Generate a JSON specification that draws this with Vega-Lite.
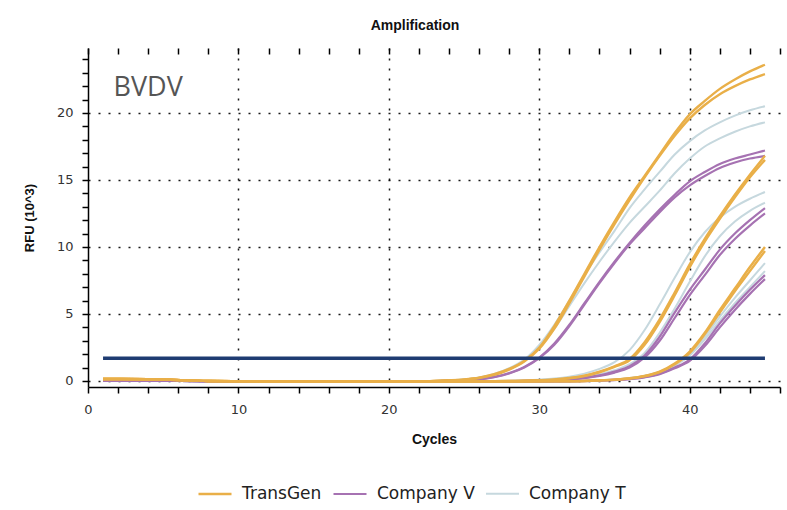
{
 "$schema": "https://vega.github.io/schema/vega-lite/v6.json",
 "autosize": {"type": "none"},
 "width": 692,
 "height": 339,
 "padding": {"left": 88, "top": 48, "right": 7, "bottom": 123},
 "background": "white",
 "config": {"view": {"stroke": null}},
 "title": {"text": "Amplification", "font": "Liberation Sans", "fontSize": 14, "fontWeight": "bold", "color": "#111", "offset": 14, "dx": -19},
 "datasets": {
  "series": [
   {"s": "T1a", "company": "Company T"}, {"s": "T1b", "company": "Company T"}, {"s": "T2a", "company": "Company T"}, {"s": "T2b", "company": "Company T"}, {"s": "T3a", "company": "Company T"}, {"s": "T3b", "company": "Company T"},
   {"s": "V1a", "company": "Company V"}, {"s": "V1b", "company": "Company V"}, {"s": "V2a", "company": "Company V"}, {"s": "V2b", "company": "Company V"}, {"s": "V3a", "company": "Company V"}, {"s": "V3b", "company": "Company V"},
   {"s": "G1a", "company": "TransGen"}, {"s": "G1b", "company": "TransGen"}, {"s": "G2a", "company": "TransGen"}, {"s": "G2b", "company": "TransGen"}, {"s": "G3a", "company": "TransGen"}, {"s": "G3b", "company": "TransGen"}
  ],
  "curves": [
   {"s":"T1a","c":1,"v":0.05},{"s":"T1a","c":4,"v":0.03},{"s":"T1a","c":8,"v":-0.02},{"s":"T1a","c":12,"v":-0.05},{"s":"T1a","c":16,"v":-0.05},{"s":"T1a","c":20,"v":-0.05},{"s":"T1a","c":22,"v":-0.03},{"s":"T1a","c":23,"v":0},{"s":"T1a","c":24,"v":0.05},{"s":"T1a","c":25,"v":0.12},{"s":"T1a","c":26,"v":0.26},{"s":"T1a","c":27,"v":0.52},{"s":"T1a","c":28,"v":0.95},{"s":"T1a","c":29,"v":1.6},{"s":"T1a","c":30,"v":2.7},{"s":"T1a","c":31,"v":4.2},{"s":"T1a","c":32,"v":6.0},{"s":"T1a","c":33,"v":7.9},{"s":"T1a","c":34,"v":9.6},{"s":"T1a","c":35,"v":11.2},{"s":"T1a","c":36,"v":12.9},{"s":"T1a","c":37,"v":14.3},{"s":"T1a","c":38,"v":15.6},{"s":"T1a","c":39,"v":16.9},{"s":"T1a","c":40,"v":17.9},{"s":"T1a","c":41,"v":18.7},{"s":"T1a","c":42,"v":19.3},{"s":"T1a","c":43,"v":19.8},{"s":"T1a","c":44,"v":20.2},{"s":"T1a","c":45,"v":20.5},
   {"s":"T1b","c":1,"v":0.05},{"s":"T1b","c":4,"v":0.03},{"s":"T1b","c":8,"v":-0.02},{"s":"T1b","c":12,"v":-0.05},{"s":"T1b","c":16,"v":-0.05},{"s":"T1b","c":20,"v":-0.05},{"s":"T1b","c":22,"v":-0.03},{"s":"T1b","c":23,"v":0},{"s":"T1b","c":24,"v":0.04},{"s":"T1b","c":25,"v":0.1},{"s":"T1b","c":26,"v":0.23},{"s":"T1b","c":27,"v":0.47},{"s":"T1b","c":28,"v":0.88},{"s":"T1b","c":29,"v":1.5},{"s":"T1b","c":30,"v":2.5},{"s":"T1b","c":31,"v":3.9},{"s":"T1b","c":32,"v":5.6},{"s":"T1b","c":33,"v":7.3},{"s":"T1b","c":34,"v":8.9},{"s":"T1b","c":35,"v":10.4},{"s":"T1b","c":36,"v":11.8},{"s":"T1b","c":37,"v":13.0},{"s":"T1b","c":38,"v":14.2},{"s":"T1b","c":39,"v":15.5},{"s":"T1b","c":40,"v":16.6},{"s":"T1b","c":41,"v":17.5},{"s":"T1b","c":42,"v":18.1},{"s":"T1b","c":43,"v":18.6},{"s":"T1b","c":44,"v":19.0},{"s":"T1b","c":45,"v":19.3},
   {"s":"T2a","c":1,"v":0.05},{"s":"T2a","c":4,"v":0.03},{"s":"T2a","c":8,"v":-0.02},{"s":"T2a","c":12,"v":-0.05},{"s":"T2a","c":16,"v":-0.05},{"s":"T2a","c":20,"v":-0.05},{"s":"T2a","c":24,"v":-0.04},{"s":"T2a","c":26,"v":-0.02},{"s":"T2a","c":28,"v":0.02},{"s":"T2a","c":29,"v":0.05},{"s":"T2a","c":30,"v":0.1},{"s":"T2a","c":31,"v":0.18},{"s":"T2a","c":32,"v":0.32},{"s":"T2a","c":33,"v":0.55},{"s":"T2a","c":34,"v":0.9},{"s":"T2a","c":35,"v":1.4},{"s":"T2a","c":36,"v":2.3},{"s":"T2a","c":37,"v":3.8},{"s":"T2a","c":38,"v":5.7},{"s":"T2a","c":39,"v":7.7},{"s":"T2a","c":40,"v":9.6},{"s":"T2a","c":41,"v":11.1},{"s":"T2a","c":42,"v":12.2},{"s":"T2a","c":43,"v":13.0},{"s":"T2a","c":44,"v":13.6},{"s":"T2a","c":45,"v":14.1},
   {"s":"T2b","c":1,"v":0.05},{"s":"T2b","c":4,"v":0.03},{"s":"T2b","c":8,"v":-0.02},{"s":"T2b","c":12,"v":-0.05},{"s":"T2b","c":16,"v":-0.05},{"s":"T2b","c":20,"v":-0.05},{"s":"T2b","c":24,"v":-0.04},{"s":"T2b","c":26,"v":-0.03},{"s":"T2b","c":28,"v":0.0},{"s":"T2b","c":30,"v":0.06},{"s":"T2b","c":31,"v":0.1},{"s":"T2b","c":32,"v":0.18},{"s":"T2b","c":33,"v":0.3},{"s":"T2b","c":34,"v":0.5},{"s":"T2b","c":35,"v":0.8},{"s":"T2b","c":36,"v":1.25},{"s":"T2b","c":37,"v":2.1},{"s":"T2b","c":38,"v":3.6},{"s":"T2b","c":39,"v":5.4},{"s":"T2b","c":40,"v":7.4},{"s":"T2b","c":41,"v":9.3},{"s":"T2b","c":42,"v":10.8},{"s":"T2b","c":43,"v":11.9},{"s":"T2b","c":44,"v":12.7},{"s":"T2b","c":45,"v":13.3},
   {"s":"T3a","c":1,"v":0.05},{"s":"T3a","c":4,"v":0.03},{"s":"T3a","c":8,"v":-0.02},{"s":"T3a","c":12,"v":-0.05},{"s":"T3a","c":16,"v":-0.05},{"s":"T3a","c":20,"v":-0.05},{"s":"T3a","c":24,"v":-0.05},{"s":"T3a","c":28,"v":-0.04},{"s":"T3a","c":31,"v":-0.02},{"s":"T3a","c":33,"v":0.02},{"s":"T3a","c":34,"v":0.06},{"s":"T3a","c":35,"v":0.12},{"s":"T3a","c":36,"v":0.22},{"s":"T3a","c":37,"v":0.4},{"s":"T3a","c":38,"v":0.7},{"s":"T3a","c":39,"v":1.2},{"s":"T3a","c":40,"v":2.0},{"s":"T3a","c":41,"v":3.3},{"s":"T3a","c":42,"v":4.8},{"s":"T3a","c":43,"v":6.2},{"s":"T3a","c":44,"v":7.5},{"s":"T3a","c":45,"v":8.8},
   {"s":"T3b","c":1,"v":0.05},{"s":"T3b","c":4,"v":0.03},{"s":"T3b","c":8,"v":-0.02},{"s":"T3b","c":12,"v":-0.05},{"s":"T3b","c":16,"v":-0.05},{"s":"T3b","c":20,"v":-0.05},{"s":"T3b","c":24,"v":-0.05},{"s":"T3b","c":28,"v":-0.04},{"s":"T3b","c":31,"v":-0.02},{"s":"T3b","c":33,"v":0.01},{"s":"T3b","c":34,"v":0.05},{"s":"T3b","c":35,"v":0.1},{"s":"T3b","c":36,"v":0.2},{"s":"T3b","c":37,"v":0.37},{"s":"T3b","c":38,"v":0.66},{"s":"T3b","c":39,"v":1.15},{"s":"T3b","c":40,"v":1.9},{"s":"T3b","c":41,"v":3.1},{"s":"T3b","c":42,"v":4.5},{"s":"T3b","c":43,"v":5.8},{"s":"T3b","c":44,"v":7.0},{"s":"T3b","c":45,"v":8.2},
   {"s":"V1a","c":1,"v":0.05},{"s":"V1a","c":4,"v":0.03},{"s":"V1a","c":8,"v":-0.02},{"s":"V1a","c":12,"v":-0.05},{"s":"V1a","c":16,"v":-0.05},{"s":"V1a","c":20,"v":-0.05},{"s":"V1a","c":22,"v":-0.04},{"s":"V1a","c":23,"v":-0.02},{"s":"V1a","c":24,"v":0.02},{"s":"V1a","c":25,"v":0.06},{"s":"V1a","c":26,"v":0.14},{"s":"V1a","c":27,"v":0.3},{"s":"V1a","c":28,"v":0.6},{"s":"V1a","c":29,"v":1.05},{"s":"V1a","c":30,"v":1.75},{"s":"V1a","c":31,"v":2.8},{"s":"V1a","c":32,"v":4.2},{"s":"V1a","c":33,"v":5.8},{"s":"V1a","c":34,"v":7.4},{"s":"V1a","c":35,"v":8.9},{"s":"V1a","c":36,"v":10.3},{"s":"V1a","c":37,"v":11.6},{"s":"V1a","c":38,"v":12.8},{"s":"V1a","c":39,"v":13.9},{"s":"V1a","c":40,"v":14.9},{"s":"V1a","c":41,"v":15.6},{"s":"V1a","c":42,"v":16.2},{"s":"V1a","c":43,"v":16.6},{"s":"V1a","c":44,"v":16.9},{"s":"V1a","c":45,"v":17.2},
   {"s":"V1b","c":1,"v":0.05},{"s":"V1b","c":4,"v":0.03},{"s":"V1b","c":8,"v":-0.02},{"s":"V1b","c":12,"v":-0.05},{"s":"V1b","c":16,"v":-0.05},{"s":"V1b","c":20,"v":-0.05},{"s":"V1b","c":22,"v":-0.04},{"s":"V1b","c":23,"v":-0.02},{"s":"V1b","c":24,"v":0.01},{"s":"V1b","c":25,"v":0.05},{"s":"V1b","c":26,"v":0.12},{"s":"V1b","c":27,"v":0.28},{"s":"V1b","c":28,"v":0.56},{"s":"V1b","c":29,"v":1.0},{"s":"V1b","c":30,"v":1.7},{"s":"V1b","c":31,"v":2.7},{"s":"V1b","c":32,"v":4.1},{"s":"V1b","c":33,"v":5.7},{"s":"V1b","c":34,"v":7.3},{"s":"V1b","c":35,"v":8.8},{"s":"V1b","c":36,"v":10.2},{"s":"V1b","c":37,"v":11.4},{"s":"V1b","c":38,"v":12.6},{"s":"V1b","c":39,"v":13.7},{"s":"V1b","c":40,"v":14.6},{"s":"V1b","c":41,"v":15.3},{"s":"V1b","c":42,"v":15.9},{"s":"V1b","c":43,"v":16.3},{"s":"V1b","c":44,"v":16.6},{"s":"V1b","c":45,"v":16.8},
   {"s":"V2a","c":1,"v":0.05},{"s":"V2a","c":4,"v":0.03},{"s":"V2a","c":8,"v":-0.02},{"s":"V2a","c":12,"v":-0.05},{"s":"V2a","c":16,"v":-0.05},{"s":"V2a","c":20,"v":-0.05},{"s":"V2a","c":24,"v":-0.05},{"s":"V2a","c":26,"v":-0.04},{"s":"V2a","c":28,"v":-0.02},{"s":"V2a","c":30,"v":0.03},{"s":"V2a","c":31,"v":0.07},{"s":"V2a","c":32,"v":0.14},{"s":"V2a","c":33,"v":0.25},{"s":"V2a","c":34,"v":0.42},{"s":"V2a","c":35,"v":0.7},{"s":"V2a","c":36,"v":1.1},{"s":"V2a","c":37,"v":1.9},{"s":"V2a","c":38,"v":3.3},{"s":"V2a","c":39,"v":5.1},{"s":"V2a","c":40,"v":6.8},{"s":"V2a","c":41,"v":8.3},{"s":"V2a","c":42,"v":9.8},{"s":"V2a","c":43,"v":11.0},{"s":"V2a","c":44,"v":12.0},{"s":"V2a","c":45,"v":12.9},
   {"s":"V2b","c":1,"v":0.05},{"s":"V2b","c":4,"v":0.03},{"s":"V2b","c":8,"v":-0.02},{"s":"V2b","c":12,"v":-0.05},{"s":"V2b","c":16,"v":-0.05},{"s":"V2b","c":20,"v":-0.05},{"s":"V2b","c":24,"v":-0.05},{"s":"V2b","c":26,"v":-0.04},{"s":"V2b","c":28,"v":-0.02},{"s":"V2b","c":30,"v":0.02},{"s":"V2b","c":31,"v":0.05},{"s":"V2b","c":32,"v":0.11},{"s":"V2b","c":33,"v":0.21},{"s":"V2b","c":34,"v":0.37},{"s":"V2b","c":35,"v":0.62},{"s":"V2b","c":36,"v":1.0},{"s":"V2b","c":37,"v":1.75},{"s":"V2b","c":38,"v":3.0},{"s":"V2b","c":39,"v":4.7},{"s":"V2b","c":40,"v":6.4},{"s":"V2b","c":41,"v":7.9},{"s":"V2b","c":42,"v":9.4},{"s":"V2b","c":43,"v":10.6},{"s":"V2b","c":44,"v":11.6},{"s":"V2b","c":45,"v":12.5},
   {"s":"V3a","c":1,"v":0.05},{"s":"V3a","c":4,"v":0.03},{"s":"V3a","c":8,"v":-0.02},{"s":"V3a","c":12,"v":-0.05},{"s":"V3a","c":16,"v":-0.05},{"s":"V3a","c":20,"v":-0.05},{"s":"V3a","c":24,"v":-0.05},{"s":"V3a","c":28,"v":-0.05},{"s":"V3a","c":31,"v":-0.03},{"s":"V3a","c":33,"v":0.0},{"s":"V3a","c":34,"v":0.03},{"s":"V3a","c":35,"v":0.08},{"s":"V3a","c":36,"v":0.16},{"s":"V3a","c":37,"v":0.3},{"s":"V3a","c":38,"v":0.55},{"s":"V3a","c":39,"v":1.0},{"s":"V3a","c":40,"v":1.6},{"s":"V3a","c":41,"v":2.8},{"s":"V3a","c":42,"v":4.3},{"s":"V3a","c":43,"v":5.6},{"s":"V3a","c":44,"v":6.8},{"s":"V3a","c":45,"v":7.9},
   {"s":"V3b","c":1,"v":0.05},{"s":"V3b","c":4,"v":0.03},{"s":"V3b","c":8,"v":-0.02},{"s":"V3b","c":12,"v":-0.05},{"s":"V3b","c":16,"v":-0.05},{"s":"V3b","c":20,"v":-0.05},{"s":"V3b","c":24,"v":-0.05},{"s":"V3b","c":28,"v":-0.05},{"s":"V3b","c":31,"v":-0.03},{"s":"V3b","c":33,"v":-0.01},{"s":"V3b","c":34,"v":0.02},{"s":"V3b","c":35,"v":0.07},{"s":"V3b","c":36,"v":0.14},{"s":"V3b","c":37,"v":0.27},{"s":"V3b","c":38,"v":0.5},{"s":"V3b","c":39,"v":0.95},{"s":"V3b","c":40,"v":1.5},{"s":"V3b","c":41,"v":2.6},{"s":"V3b","c":42,"v":4.0},{"s":"V3b","c":43,"v":5.3},{"s":"V3b","c":44,"v":6.5},{"s":"V3b","c":45,"v":7.6},
   {"s":"G1a","c":1,"v":0.15},{"s":"G1a","c":4,"v":0.13},{"s":"G1a","c":8,"v":0.0},{"s":"G1a","c":12,"v":-0.04},{"s":"G1a","c":16,"v":-0.05},{"s":"G1a","c":20,"v":-0.04},{"s":"G1a","c":22,"v":-0.03},{"s":"G1a","c":23,"v":0.0},{"s":"G1a","c":24,"v":0.05},{"s":"G1a","c":25,"v":0.12},{"s":"G1a","c":26,"v":0.25},{"s":"G1a","c":27,"v":0.5},{"s":"G1a","c":28,"v":0.9},{"s":"G1a","c":29,"v":1.5},{"s":"G1a","c":30,"v":2.5},{"s":"G1a","c":31,"v":4.1},{"s":"G1a","c":32,"v":6.0},{"s":"G1a","c":33,"v":8.0},{"s":"G1a","c":34,"v":10.0},{"s":"G1a","c":35,"v":11.9},{"s":"G1a","c":36,"v":13.7},{"s":"G1a","c":37,"v":15.3},{"s":"G1a","c":38,"v":16.9},{"s":"G1a","c":39,"v":18.5},{"s":"G1a","c":40,"v":19.9},{"s":"G1a","c":41,"v":20.9},{"s":"G1a","c":42,"v":21.8},{"s":"G1a","c":43,"v":22.5},{"s":"G1a","c":44,"v":23.1},{"s":"G1a","c":45,"v":23.6},
   {"s":"G1b","c":1,"v":0.15},{"s":"G1b","c":4,"v":0.13},{"s":"G1b","c":8,"v":0.0},{"s":"G1b","c":12,"v":-0.04},{"s":"G1b","c":16,"v":-0.05},{"s":"G1b","c":20,"v":-0.04},{"s":"G1b","c":22,"v":-0.03},{"s":"G1b","c":23,"v":0.0},{"s":"G1b","c":24,"v":0.04},{"s":"G1b","c":25,"v":0.1},{"s":"G1b","c":26,"v":0.22},{"s":"G1b","c":27,"v":0.45},{"s":"G1b","c":28,"v":0.85},{"s":"G1b","c":29,"v":1.45},{"s":"G1b","c":30,"v":2.4},{"s":"G1b","c":31,"v":3.9},{"s":"G1b","c":32,"v":5.8},{"s":"G1b","c":33,"v":7.8},{"s":"G1b","c":34,"v":9.8},{"s":"G1b","c":35,"v":11.7},{"s":"G1b","c":36,"v":13.5},{"s":"G1b","c":37,"v":15.2},{"s":"G1b","c":38,"v":16.8},{"s":"G1b","c":39,"v":18.3},{"s":"G1b","c":40,"v":19.6},{"s":"G1b","c":41,"v":20.6},{"s":"G1b","c":42,"v":21.4},{"s":"G1b","c":43,"v":22.0},{"s":"G1b","c":44,"v":22.5},{"s":"G1b","c":45,"v":22.9},
   {"s":"G2a","c":1,"v":0.15},{"s":"G2a","c":4,"v":0.13},{"s":"G2a","c":8,"v":0.0},{"s":"G2a","c":12,"v":-0.04},{"s":"G2a","c":16,"v":-0.05},{"s":"G2a","c":20,"v":-0.04},{"s":"G2a","c":24,"v":-0.04},{"s":"G2a","c":26,"v":-0.03},{"s":"G2a","c":28,"v":0.0},{"s":"G2a","c":29,"v":0.02},{"s":"G2a","c":30,"v":0.06},{"s":"G2a","c":31,"v":0.12},{"s":"G2a","c":32,"v":0.22},{"s":"G2a","c":33,"v":0.4},{"s":"G2a","c":34,"v":0.7},{"s":"G2a","c":35,"v":1.1},{"s":"G2a","c":36,"v":1.65},{"s":"G2a","c":37,"v":2.9},{"s":"G2a","c":38,"v":4.6},{"s":"G2a","c":39,"v":6.6},{"s":"G2a","c":40,"v":8.7},{"s":"G2a","c":41,"v":10.6},{"s":"G2a","c":42,"v":12.3},{"s":"G2a","c":43,"v":13.9},{"s":"G2a","c":44,"v":15.4},{"s":"G2a","c":45,"v":16.8},
   {"s":"G2b","c":1,"v":0.15},{"s":"G2b","c":4,"v":0.13},{"s":"G2b","c":8,"v":0.0},{"s":"G2b","c":12,"v":-0.04},{"s":"G2b","c":16,"v":-0.05},{"s":"G2b","c":20,"v":-0.04},{"s":"G2b","c":24,"v":-0.04},{"s":"G2b","c":26,"v":-0.03},{"s":"G2b","c":28,"v":0.0},{"s":"G2b","c":29,"v":0.02},{"s":"G2b","c":30,"v":0.05},{"s":"G2b","c":31,"v":0.1},{"s":"G2b","c":32,"v":0.2},{"s":"G2b","c":33,"v":0.37},{"s":"G2b","c":34,"v":0.65},{"s":"G2b","c":35,"v":1.05},{"s":"G2b","c":36,"v":1.55},{"s":"G2b","c":37,"v":2.7},{"s":"G2b","c":38,"v":4.4},{"s":"G2b","c":39,"v":6.4},{"s":"G2b","c":40,"v":8.5},{"s":"G2b","c":41,"v":10.4},{"s":"G2b","c":42,"v":12.1},{"s":"G2b","c":43,"v":13.7},{"s":"G2b","c":44,"v":15.2},{"s":"G2b","c":45,"v":16.5},
   {"s":"G3a","c":1,"v":0.15},{"s":"G3a","c":4,"v":0.13},{"s":"G3a","c":8,"v":0.0},{"s":"G3a","c":12,"v":-0.04},{"s":"G3a","c":16,"v":-0.05},{"s":"G3a","c":20,"v":-0.04},{"s":"G3a","c":24,"v":-0.05},{"s":"G3a","c":28,"v":-0.05},{"s":"G3a","c":31,"v":-0.03},{"s":"G3a","c":33,"v":0.0},{"s":"G3a","c":34,"v":0.05},{"s":"G3a","c":35,"v":0.1},{"s":"G3a","c":36,"v":0.2},{"s":"G3a","c":37,"v":0.38},{"s":"G3a","c":38,"v":0.7},{"s":"G3a","c":39,"v":1.3},{"s":"G3a","c":40,"v":2.2},{"s":"G3a","c":41,"v":3.6},{"s":"G3a","c":42,"v":5.3},{"s":"G3a","c":43,"v":6.9},{"s":"G3a","c":44,"v":8.5},{"s":"G3a","c":45,"v":10.0},
   {"s":"G3b","c":1,"v":0.15},{"s":"G3b","c":4,"v":0.13},{"s":"G3b","c":8,"v":0.0},{"s":"G3b","c":12,"v":-0.04},{"s":"G3b","c":16,"v":-0.05},{"s":"G3b","c":20,"v":-0.04},{"s":"G3b","c":24,"v":-0.05},{"s":"G3b","c":28,"v":-0.05},{"s":"G3b","c":31,"v":-0.03},{"s":"G3b","c":33,"v":0.0},{"s":"G3b","c":34,"v":0.04},{"s":"G3b","c":35,"v":0.09},{"s":"G3b","c":36,"v":0.18},{"s":"G3b","c":37,"v":0.35},{"s":"G3b","c":38,"v":0.66},{"s":"G3b","c":39,"v":1.25},{"s":"G3b","c":40,"v":2.1},{"s":"G3b","c":41,"v":3.5},{"s":"G3b","c":42,"v":5.1},{"s":"G3b","c":43,"v":6.7},{"s":"G3b","c":44,"v":8.2},{"s":"G3b","c":45,"v":9.7}
  ]
 },
 "encoding": {
  "y": {
   "field": "v", "type": "quantitative",
   "scale": {"domain": [-0.45, 24.85], "nice": false, "zero": false},
   "axis": {
    "orient": "left",
    "values": [0,1,2,3,4,5,6,7,8,9,10,11,12,13,14,15,16,17,18,19,20,21,22,23,24],
    "labelExpr": "datum.value % 5 === 0 ? datum.label : ''",
    "title": "RFU (10^3)", "titleFont": "Liberation Sans", "titleFontSize": 13, "titleFontWeight": "bold", "titleColor": "#111", "titlePadding": 20,
    "labelFont": "DejaVu Sans", "labelFontSize": 13, "labelColor": "#333", "labelPadding": 9, "labelOverlap": false, "labelFlush": false,
    "tickSize": 6, "tickColor": "#000", "tickWidth": 1.5,
    "domainColor": "#000", "domainWidth": 1.5,
    "grid": true, "gridColor": "#000", "gridDash": [2, 8], "gridWidth": 1.5,
    "gridOpacity": {"condition": {"test": "datum.value % 5 === 0", "value": 0.9}, "value": 0}
   }
  }
 },
 "resolve": {"axis": {"x": "independent"}},
 "layer": [
  {
   "data": {"name": "curves"},
   "transform": [{"lookup": "s", "from": {"data": {"name": "series"}, "key": "s", "fields": ["company"]}}],
   "mark": {"type": "line", "interpolate": "monotone"},
   "encoding": {
    "x": {
     "field": "c", "type": "quantitative",
     "scale": {"domain": [0, 46], "nice": false, "zero": false},
     "axis": {
      "orient": "bottom",
      "values": [0,2,4,6,8,10,12,14,16,18,20,22,24,26,28,30,32,34,36,38,40,42,44,46],
      "labelExpr": "datum.value % 10 === 0 ? datum.label : ''",
      "title": "Cycles", "titleFont": "Liberation Sans", "titleFontSize": 14, "titleFontWeight": "bold", "titleColor": "#111", "titlePadding": 16,
      "labelFont": "DejaVu Sans", "labelFontSize": 13, "labelColor": "#333", "labelPadding": 10, "labelOverlap": false, "labelFlush": false,
      "tickSize": 6, "tickColor": "#000", "tickWidth": 1.5,
      "domainColor": "#000", "domainWidth": 1.5,
      "grid": true, "gridColor": "#000", "gridDash": [2, 8], "gridWidth": 1.5,
      "gridOpacity": {"condition": {"test": "datum.value % 10 === 0 && datum.value > 0", "value": 0.9}, "value": 0}
     }
    },
    "detail": {"field": "s", "type": "nominal"},
    "color": {
     "field": "company", "type": "nominal",
     "scale": {"domain": ["TransGen", "Company V", "Company T"], "range": ["#E9AF48", "#A672B2", "#C6D8DE"]},
     "legend": {
      "orient": "none", "legendX": 109, "legendY": 428, "direction": "horizontal", "title": null,
      "symbolType": "stroke", "symbolSize": 1089, "symbolStrokeWidth": 2.5,
      "labelFont": "DejaVu Sans", "labelFontSize": 17, "labelColor": "#222", "labelOffset": 9, "columnPadding": 7
     }
    },
    "strokeWidth": {
     "field": "company", "type": "nominal",
     "scale": {"domain": ["TransGen", "Company V", "Company T"], "range": [2.4, 2.0, 1.3]},
     "legend": null
    }
   }
  },
  {
   "data": {"values": [{"c": 1, "c2": 45, "v": 1.7}]},
   "mark": {"type": "rule", "color": "#1F3C72", "strokeWidth": 3.5},
   "encoding": {
    "x": {
     "field": "c", "type": "quantitative",
     "axis": {
      "orient": "top", "labels": false, "title": null, "grid": false, "domain": false,
      "values": [0,2,4,6,8,10,12,14,16,18,20,22,24,26,28,30,32,34,36,38,40,42,44,46],
      "offset": -6, "tickSize": 6, "tickColor": "#000", "tickWidth": 1.5
     }
    },
    "x2": {"field": "c2"}
   }
  },
  {
   "mark": {"type": "rule", "color": "#000", "strokeWidth": 2},
   "encoding": {"y": {"datum": 24.85}}
  },
  {
   "data": {"values": [{"label": "BVDV", "c": 1.7, "v": 21.9}]},
   "mark": {"type": "text", "align": "left", "baseline": "middle", "font": "Open Sans", "fontSize": 27, "color": "#555"},
   "encoding": {
    "x": {"field": "c", "type": "quantitative", "axis": null},
    "text": {"field": "label"}
   }
  }
 ]
}
